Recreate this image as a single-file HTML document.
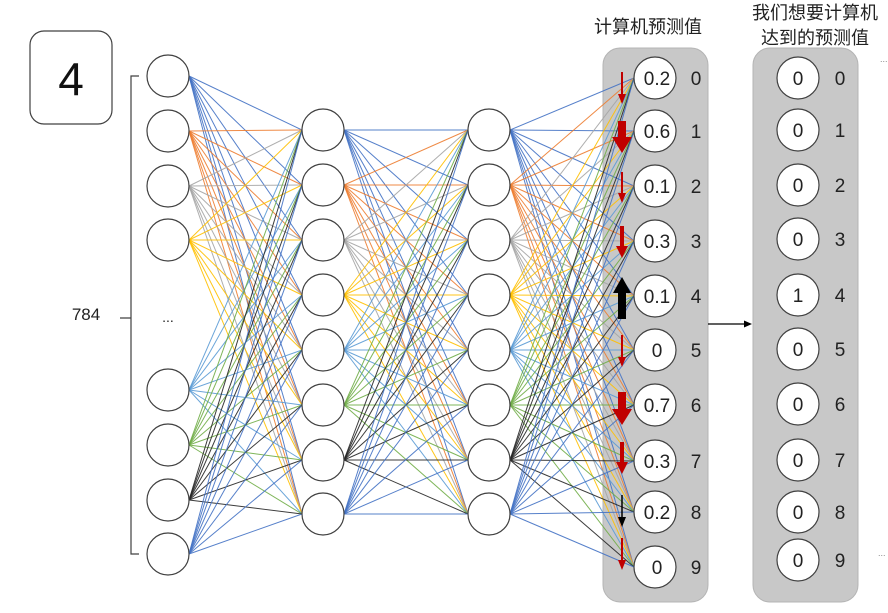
<!DOCTYPE html>
<html><head><meta charset="utf-8">
<style>
html,body{margin:0;padding:0;background:#fff;}
svg{display:block;font-family:"Liberation Sans","Noto Sans CJK SC",sans-serif;}
</style></head>
<body>
<svg id="s" width="888" height="613" viewBox="0 0 888 613" xmlns="http://www.w3.org/2000/svg">
<rect x="603" y="48" width="105" height="554" rx="17" fill="#c8c8c8" stroke="#b4b4b4"/>
<rect x="753" y="48" width="105" height="554" rx="17" fill="#c8c8c8" stroke="#b4b4b4"/>
<g id="lines" stroke-width="1"></g>
<g id="nodes" fill="#fff" stroke="#404040" stroke-width="1.2"></g>
<rect x="30" y="31" width="82" height="93" rx="14" fill="#fff" stroke="#404040" stroke-width="1.2"/>
<text x="71" y="95" font-size="46" text-anchor="middle" fill="#111">4</text>
<path d="M139 76 H131 V554 H139 M131 318 H120" fill="none" stroke="#404040" stroke-width="1.2"/>
<text x="86" y="320" font-size="17" text-anchor="middle" fill="#222">784</text>
<text x="168" y="322" font-size="14" text-anchor="middle" fill="#222">...</text>
<text x="648" y="33" font-size="18" text-anchor="middle" fill="#222">计算机预测值</text>
<text x="815" y="19" font-size="18" text-anchor="middle" fill="#222">我们想要计算机</text>
<text x="815" y="44" font-size="18" text-anchor="middle" fill="#222">达到的预测值</text>
<text x="880" y="62" font-size="9" fill="#888">...</text>
<text x="878" y="556" font-size="9" fill="#888">...</text>
<line x1="708" y1="324" x2="745" y2="324" stroke="#000" stroke-width="1.3"/>
<polygon points="752,324 744,320.5 744,327.5" fill="#000"/>
<g id="labels" font-size="19" fill="#222" text-anchor="middle"></g>
<g id="arrows"></g>
</svg>
<script>
var NS="http://www.w3.org/2000/svg";
function el(p,t,a,txt){var e=document.createElementNS(NS,t);for(var k in a)e.setAttribute(k,a[k]);if(txt!=null)e.textContent=txt;document.getElementById(p).appendChild(e);return e;}
var C=["#4472c4","#ed7d31","#a5a5a5","#ffc000","#5b9bd5","#70ad47","#262626","#4472c4"];
var inY=[76,131,186,240,390,445,500,554];
var hY=[130,185,240,295,350,405,460,514];
var oY=[78,131,186,241,296,350,405,461,512,567];
var tY=[78,130,185,239,295,349,404,460,512,560];
var R=21;
function conn(ax,ay,bx,by){for(var i=0;i<ay.length;i++)for(var j=0;j<by.length;j++)el("lines","line",{x1:ax+R,y1:ay[i],x2:bx-R,y2:by[j],stroke:C[i%8],"stroke-opacity":0.9});}
conn(168,inY,323,hY);conn(323,hY,489,hY);conn(489,hY,655,oY);
inY.forEach(function(y){el("nodes","circle",{cx:168,cy:y,r:R});});
hY.forEach(function(y){el("nodes","circle",{cx:323,cy:y,r:R});el("nodes","circle",{cx:489,cy:y,r:R});});
var ov=["0.2","0.6","0.1","0.3","0.1","0","0.7","0.3","0.2","0"];
var tv=["0","0","0","0","1","0","0","0","0","0"];
oY.forEach(function(y,i){el("nodes","circle",{cx:655,cy:y,r:R});
el("labels","text",{x:657,y:y+7},ov[i]);
el("labels","text",{x:696,y:y+7},String(i));});
tY.forEach(function(y,i){el("nodes","circle",{cx:798,cy:y,r:R});el("labels","text",{x:798,y:y+7},tv[i]);el("labels","text",{x:840,y:y+7},String(i));});
var A=[[72,104,2,8,10,"#c00000",0],[121,153,8,20,16,"#c00000",0],[172,203,2,8,10,"#c00000",0],[226,258,4,12,12,"#c00000",0],
[277,319,8,18,16,"#000",1],[335,367,2,8,10,"#c00000",0],[392,425,8,20,16,"#c00000",0],[442,474,4,12,12,"#c00000",0],[495,527,1.5,8,10,"#000",0],[538,570,2,8,10,"#c00000",0]];
var ax=622;
A.forEach(function(a){var y1=a[0],y2=a[1],sw=a[2],hw=a[3],hh=a[4],c=a[5];
if(!a[6]){el("arrows","rect",{x:ax-sw/2,y:y1,width:sw,height:y2-y1-hh,fill:c});
el("arrows","polygon",{points:(ax-hw/2)+","+(y2-hh)+" "+(ax+hw/2)+","+(y2-hh)+" "+ax+","+y2,fill:c});}
else{el("arrows","rect",{x:ax-sw/2,y:y1+hh,width:sw,height:y2-y1-hh,fill:c});
el("arrows","polygon",{points:(ax-hw/2)+","+(y1+hh)+" "+(ax+hw/2)+","+(y1+hh)+" "+ax+","+y1,fill:c});}});
</script>
</body></html>
